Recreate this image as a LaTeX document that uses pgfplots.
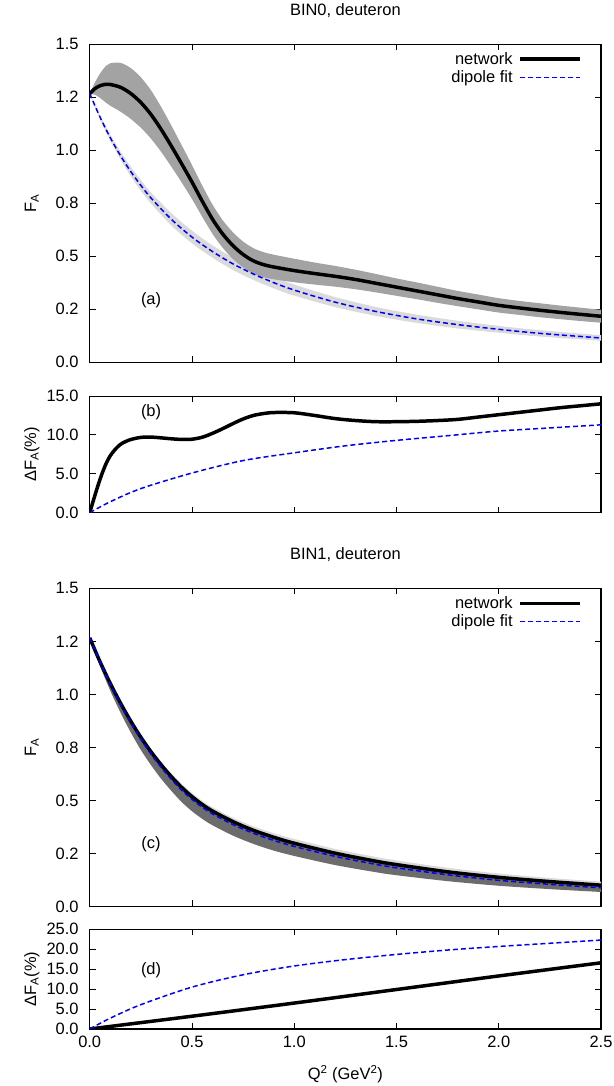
\documentclass[border=0pt]{standalone}
\usepackage{fontspec}
\setmainfont{Liberation Sans}
\usepackage{pgfplots}
\pgfplotsset{compat=1.18}
\usepgfplotslibrary{fillbetween}
\definecolor{bandA}{HTML}{A3A3A3}
\definecolor{bandL}{HTML}{DADADA}
\definecolor{bandD}{HTML}{6C6C6C}
\definecolor{gblue}{HTML}{0000FF}
\pgfplotsset{
  myaxis/.style={
    scale only axis, width=513pt, anchor=south west,
    xmin=0, xmax=2.5, xtick={0,0.5,1,1.5,2,2.5},
    tick align=inside, major tick length=6pt,
    axis line style={line width=1.1pt},
    every tick/.style={black, line width=0.9pt},
    yticklabel style={inner sep=0pt, xshift=-11pt},
    xticklabel style={inner sep=0pt, yshift=-7pt},
    every axis y label/.style={at={(axis description cs:-0.1131,0.5)}, anchor=center, rotate=90},
    every axis x label/.style={at={(axis description cs:0.5,0)}, anchor=center, yshift=-45pt},
    title style={at={(axis description cs:0.5,1)}, anchor=center, yshift=28pt},
    legend style={draw=none, fill=none, at={(rel axis cs:1,1)}, anchor=north east,
      xshift=-19pt, yshift=-6pt, inner sep=0pt, row sep=1pt, column sep=4pt,
      cells={anchor=east}},
    legend plot pos=right,
    legend image code/.code={\draw[##1, line cap=butt] (0pt,0pt) -- (60pt,0pt);},
  },
}
\tikzset{
  netline/.style={draw=black, line width=3.5pt},
  dipline/.style={draw=gblue, line width=1.5pt, dash pattern=on 5pt off 3pt},
}
\begin{document}
\begin{tikzpicture}[font=\fontsize{16.5}{19.5}\selectfont]

% ---------------- panel (a)
\begin{axis}[myaxis, at={(90pt,723pt)}, height=319pt,
  ymin=0, ymax=1.5, ytick={0,0.25,0.5,0.75,1,1.25,1.5},
  yticklabels={0.0,0.2,0.5,0.8,1.0,1.2,1.5}, xticklabels={},
  title={BIN0, deuteron}, ylabel={F\textsubscript{A}}]
\addplot[name path=dU, draw=none, smooth, forget plot] coordinates {(0,1.267) (0.05,1.165) (0.1,1.074) (0.15,0.994) (0.2,0.923) (0.25,0.859) (0.3,0.800) (0.4,0.702) (0.5,0.620) (0.6,0.551) (0.7,0.493) (0.8,0.444) (0.9,0.402) (1.0,0.366) (1.2,0.307) (1.4,0.260) (1.6,0.224) (1.8,0.195) (2.0,0.171) (2.2,0.151) (2.5,0.127)};
\addplot[name path=dL, draw=none, smooth, forget plot] coordinates {(0,1.267) (0.05,1.149) (0.1,1.046) (0.15,0.957) (0.2,0.878) (0.25,0.809) (0.3,0.748) (0.4,0.644) (0.5,0.561) (0.6,0.493) (0.7,0.435) (0.8,0.388) (0.9,0.348) (1.0,0.314) (1.2,0.260) (1.4,0.218) (1.6,0.185) (1.8,0.159) (2.0,0.139) (2.2,0.121) (2.5,0.101)};
\addplot[fill=bandL, draw=none, forget plot] fill between[of=dU and dL];
\addplot[name path=nU, draw=none, smooth, forget plot] coordinates {(0,1.267) (0.025,1.318) (0.05,1.361) (0.08,1.398) (0.1,1.410) (0.15,1.412) (0.2,1.388) (0.25,1.344) (0.3,1.282) (0.35,1.203) (0.4,1.115) (0.45,1.023) (0.5,0.930) (0.55,0.834) (0.6,0.744) (0.65,0.670) (0.7,0.613) (0.75,0.569) (0.8,0.538) (0.85,0.519) (0.9,0.507) (1.0,0.488) (1.1,0.470) (1.2,0.454) (1.3,0.436) (1.4,0.416) (1.5,0.395) (1.6,0.376) (1.7,0.356) (1.8,0.336) (1.9,0.319) (2.0,0.302) (2.1,0.289) (2.2,0.278) (2.3,0.267) (2.4,0.257) (2.5,0.247)};
\addplot[name path=nL, draw=none, smooth, forget plot] coordinates {(0,1.267) (0.025,1.262) (0.05,1.247) (0.08,1.224) (0.1,1.210) (0.15,1.182) (0.2,1.148) (0.25,1.106) (0.3,1.054) (0.35,0.991) (0.4,0.921) (0.45,0.847) (0.5,0.770) (0.55,0.686) (0.6,0.606) (0.65,0.540) (0.7,0.487) (0.75,0.447) (0.8,0.418) (0.85,0.401) (0.9,0.391) (1.0,0.377) (1.1,0.366) (1.2,0.356) (1.3,0.344) (1.4,0.329) (1.5,0.313) (1.6,0.297) (1.7,0.280) (1.8,0.264) (1.9,0.249) (2.0,0.234) (2.1,0.223) (2.2,0.212) (2.3,0.203) (2.4,0.194) (2.5,0.186)};
\addplot[fill=bandA, draw=none, forget plot] fill between[of=nU and nL];
\addplot[netline, smooth, forget plot] coordinates {(0,1.267) (0.025,1.29) (0.05,1.304) (0.08,1.311) (0.1,1.310) (0.15,1.297) (0.2,1.268) (0.25,1.225) (0.3,1.168) (0.35,1.097) (0.4,1.018) (0.45,0.935) (0.5,0.85) (0.55,0.76) (0.6,0.675) (0.65,0.605) (0.7,0.55) (0.75,0.508) (0.8,0.478) (0.85,0.460) (0.9,0.449) (1.0,0.432) (1.1,0.418) (1.2,0.405) (1.3,0.390) (1.4,0.372) (1.5,0.354) (1.6,0.336) (1.7,0.318) (1.8,0.300) (1.9,0.284) (2.0,0.268) (2.1,0.256) (2.2,0.245) (2.3,0.235) (2.4,0.2255) (2.5,0.2165)};
\addplot[dipline, smooth, forget plot] coordinates {(0,1.267) (0.05,1.157) (0.1,1.060) (0.15,0.975) (0.2,0.900) (0.25,0.834) (0.3,0.774) (0.4,0.673) (0.5,0.590) (0.6,0.522) (0.7,0.464) (0.8,0.416) (0.9,0.375) (1.0,0.340) (1.2,0.283) (1.4,0.239) (1.6,0.204) (1.8,0.177) (2.0,0.155) (2.2,0.136) (2.5,0.114)};
\addlegendimage{draw=black, line width=3.5pt}
\addlegendentry{network}
\addlegendimage{draw=gblue, line width=1.5pt, dash pattern=on 5pt off 3pt}
\addlegendentry{dipole fit}
\node at (axis cs:0.3,0.293) {(a)};
\end{axis}

% ---------------- panel (b)
\begin{axis}[myaxis, at={(90pt,572pt)}, height=117pt,
  ymin=0, ymax=15, ytick={0,5,10,15},
  yticklabels={0.0,5.0,10.0,15.0}, xticklabels={},
  ylabel={ΔF\textsubscript{A}(\%)}]
\addplot[netline, smooth] coordinates {(0,0) (0.02,1.75) (0.04,3.45) (0.06,5.0) (0.08,6.3) (0.1,7.3) (0.12,8.0) (0.14,8.55) (0.16,8.95) (0.2,9.4) (0.25,9.68) (0.3,9.72) (0.35,9.62) (0.4,9.5) (0.45,9.42) (0.5,9.45) (0.55,9.7) (0.6,10.2) (0.65,10.8) (0.7,11.45) (0.75,12.05) (0.8,12.5) (0.85,12.75) (0.9,12.88) (1.0,12.85) (1.1,12.5) (1.2,12.1) (1.3,11.85) (1.4,11.7) (1.5,11.7) (1.6,11.75) (1.7,11.85) (1.8,12.0) (1.9,12.3) (2.0,12.6) (2.1,12.9) (2.2,13.2) (2.3,13.5) (2.4,13.75) (2.5,14.0)};
\addplot[dipline, smooth] coordinates {(0,0) (0.1,1.4) (0.25,3.1) (0.5,5.1) (0.75,6.7) (1.0,7.7) (1.25,8.6) (1.5,9.3) (1.75,9.9) (2.0,10.5) (2.25,10.9) (2.5,11.3)};
\node at (axis cs:0.3,12.9) {(b)};
\end{axis}

% ---------------- panel (c)
\begin{axis}[myaxis, at={(90pt,177pt)}, height=319pt,
  ymin=0, ymax=1.5, ytick={0,0.25,0.5,0.75,1,1.25,1.5},
  yticklabels={0.0,0.2,0.5,0.8,1.0,1.2,1.5}, xticklabels={},
  title={BIN1, deuteron}, ylabel={F\textsubscript{A}}]
\addplot[name path=cLU, draw=none, smooth, forget plot] coordinates {(0,1.267) (0.05,1.159) (0.1,1.060) (0.15,0.970) (0.2,0.887) (0.25,0.811) (0.3,0.743) (0.35,0.682) (0.4,0.627) (0.45,0.578) (0.5,0.535) (0.55,0.498) (0.6,0.468) (0.7,0.418) (0.8,0.378) (0.9,0.345) (1.0,0.318) (1.2,0.271) (1.4,0.233) (1.5,0.2165) (1.75,0.182) (2.0,0.155) (2.25,0.134) (2.5,0.1165)};
\addplot[name path=cN, draw=none, smooth, forget plot] coordinates {(0,1.267) (0.05,1.155) (0.1,1.053) (0.15,0.960) (0.2,0.875) (0.25,0.798) (0.3,0.729) (0.35,0.667) (0.4,0.611) (0.45,0.561) (0.5,0.518) (0.55,0.481) (0.6,0.450) (0.7,0.400) (0.8,0.359) (0.9,0.326) (1.0,0.298) (1.2,0.251) (1.4,0.213) (1.5,0.197) (1.75,0.163) (2.0,0.137) (2.25,0.117) (2.5,0.100)};
\addplot[name path=cDL, draw=none, smooth, forget plot] coordinates {(0,1.267) (0.05,1.135) (0.1,1.019) (0.15,0.915) (0.2,0.822) (0.25,0.738) (0.3,0.666) (0.35,0.601) (0.4,0.544) (0.45,0.492) (0.5,0.449) (0.55,0.413) (0.6,0.383) (0.7,0.334) (0.8,0.295) (0.9,0.263) (1.0,0.238) (1.2,0.195) (1.4,0.161) (1.5,0.147) (1.75,0.119) (2.0,0.0973) (2.25,0.0814) (2.5,0.0679)};
\addplot[fill=bandL, draw=none, forget plot] fill between[of=cLU and cN];
\addplot[fill=bandD, draw=none, forget plot] fill between[of=cN and cDL];
\addplot[netline, smooth, forget plot] coordinates {(0,1.267) (0.05,1.155) (0.1,1.053) (0.15,0.960) (0.2,0.875) (0.25,0.798) (0.3,0.729) (0.35,0.667) (0.4,0.611) (0.45,0.561) (0.5,0.518) (0.55,0.481) (0.6,0.450) (0.7,0.400) (0.8,0.359) (0.9,0.326) (1.0,0.298) (1.2,0.251) (1.4,0.213) (1.5,0.197) (1.75,0.163) (2.0,0.137) (2.25,0.117) (2.5,0.100)};
\addplot[dipline, smooth, forget plot] coordinates {(0,1.267) (0.05,1.152) (0.1,1.048) (0.15,0.953) (0.2,0.866) (0.25,0.788) (0.3,0.718) (0.35,0.655) (0.4,0.599) (0.45,0.548) (0.5,0.505) (0.55,0.468) (0.6,0.4365) (0.7,0.386) (0.8,0.345) (0.9,0.311) (1.0,0.283) (1.2,0.236) (1.4,0.198) (1.5,0.182) (1.75,0.149) (2.0,0.123) (2.25,0.104) (2.5,0.0875)};
\addlegendimage{draw=black, line width=3.5pt}
\addlegendentry{network}
\addlegendimage{draw=gblue, line width=1.5pt, dash pattern=on 5pt off 3pt}
\addlegendentry{dipole fit}
\node at (axis cs:0.3,0.293) {(c)};
\end{axis}

% ---------------- panel (d)
\begin{axis}[myaxis, at={(90pt,54pt)}, height=100pt,
  ymin=0, ymax=25, ytick={0,5,10,15,20,25},
  yticklabels={0.0,5.0,10.0,15.0,20.0,25.0},
  xticklabels={0.0,0.5,1.0,1.5,2.0,2.5},
  ylabel={ΔF\textsubscript{A}(\%)},
  xlabel={Q\textsuperscript{2} (GeV\textsuperscript{2})}]
\addplot[netline, smooth] coordinates {(0,0) (0.5,3.2) (1.0,6.5) (1.5,9.9) (2.0,13.3) (2.5,16.6)};
\addplot[dipline, smooth] coordinates {(0,0) (0.1,2.7) (0.25,6.1) (0.5,10.5) (0.75,13.6) (1.0,15.8) (1.25,17.4) (1.5,18.7) (1.75,19.8) (2.0,20.7) (2.25,21.5) (2.5,22.3)};
\node at (axis cs:0.3,14.8) {(d)};
\end{axis}
\path (0pt,0pt) rectangle (616pt,1086pt);
\end{tikzpicture}
\end{document}
